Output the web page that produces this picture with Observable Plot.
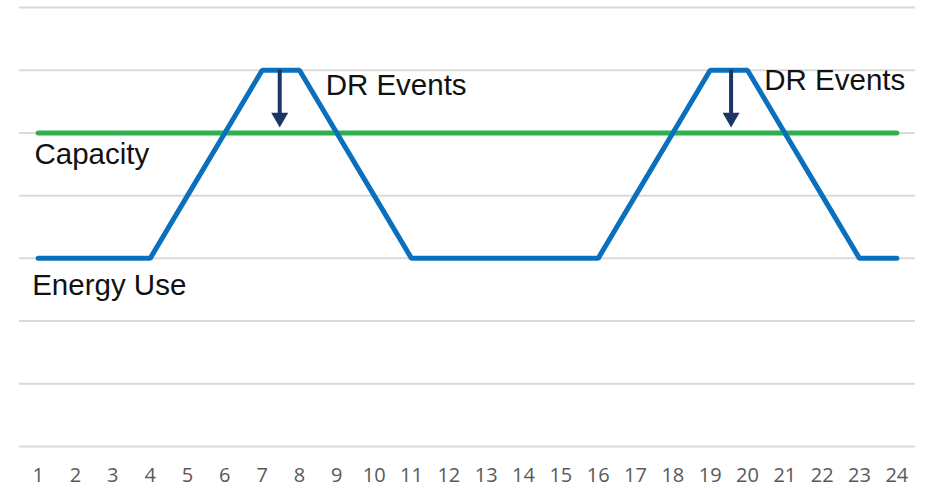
<!DOCTYPE html>
<html>
<head>
<meta charset="utf-8">
<script src="https://cdn.jsdelivr.net/npm/d3@7"></script>
<script src="https://cdn.jsdelivr.net/npm/@observablehq/plot@0.6"></script>
<style>
  html, body { margin: 0; padding: 0; background: #ffffff; }
  #chart svg { display: block; }
</style>
</head>
<body>
<div id="chart"></div>
<script>
const hours = [1,2,3,4,5,6,7,8,9,10,11,12,13,14,15,16,17,18,19,20,21,22,23,24];
const energyUse = [3,3,3,3,4,5,6,6,5,4,3,3,3,3,3,3,4,5,6,6,5,4,3,3];
const capacity = [5,5,5,5,5,5,5,5,5,5,5,5,5,5,5,5,5,5,5,5,5,5,5,5];
const gridValues = [0,1,2,3,4,5,6,7];
const arrowX = [7.47, 19.56];
const arrowTop = [6, 6];
const arrowTip = [5.1, 5.1];
const labelText = ["DR Events", "DR Events", "Capacity", "Energy Use"];
const labelX = [8.7, 20.45, 0.9, 0.84];
const labelY = [5.6, 5.69, 4.51, 2.42];

const energyData = hours.map((h, i) => ({hour: h, value: energyUse[i]}));
const capacityData = hours.map((h, i) => ({hour: h, value: capacity[i]}));
const arrows = arrowX.map((x, i) => ({x, top: arrowTop[i], tip: arrowTip[i]}));
const labels = labelText.map((t, i) => ({text: t, x: labelX[i], y: labelY[i]}));

const chart = Plot.plot({
  width: 927,
  height: 489,
  marginLeft: 19,
  marginRight: 12,
  marginTop: 7,
  marginBottom: 43,
  style: {background: "#ffffff", fontFamily: "Open Sans", fontSize: "20px"},
  x: {domain: [0.5, 24.5], ticks: hours, tickFormat: d => String(d)},
  y: {domain: [0, 7], axis: null},
  marks: [
    Plot.ruleY(gridValues, {stroke: "#d9d9d9", strokeWidth: 2}),
    Plot.axisX({ticks: hours, tickSize: 0, tickPadding: 21,
      fill: "#595959", tickFormat: d => String(d)}),
    Plot.line(capacityData, {x: "hour", y: "value", stroke: "#2eb14b", strokeWidth: 5,
      strokeLinecap: "round"}),
    Plot.line(energyData, {x: "hour", y: "value", stroke: "#0a70bd", strokeWidth: 5,
      strokeLinecap: "round", strokeLinejoin: "miter"}),
    Plot.ruleX(arrows, {x: "x", y1: "top", y2: "tip", stroke: "#1c3566", strokeWidth: 4,
      insetBottom: 10}),
    Plot.dot(arrows, {x: "x", y: "tip", symbol: "triangle", rotate: 180, r: 6.3,
      fill: "#1c3566", stroke: "none", dy: -9}),
    Plot.text(labels, {x: "x", y: "y", text: "text", textAnchor: "start",
      lineAnchor: "bottom", fontSize: 29.5, fontFamily: "Liberation Sans, Arial, sans-serif",
      fill: "#111111"})
  ]
});
document.getElementById("chart").appendChild(chart);
</script>
</body>
</html>
